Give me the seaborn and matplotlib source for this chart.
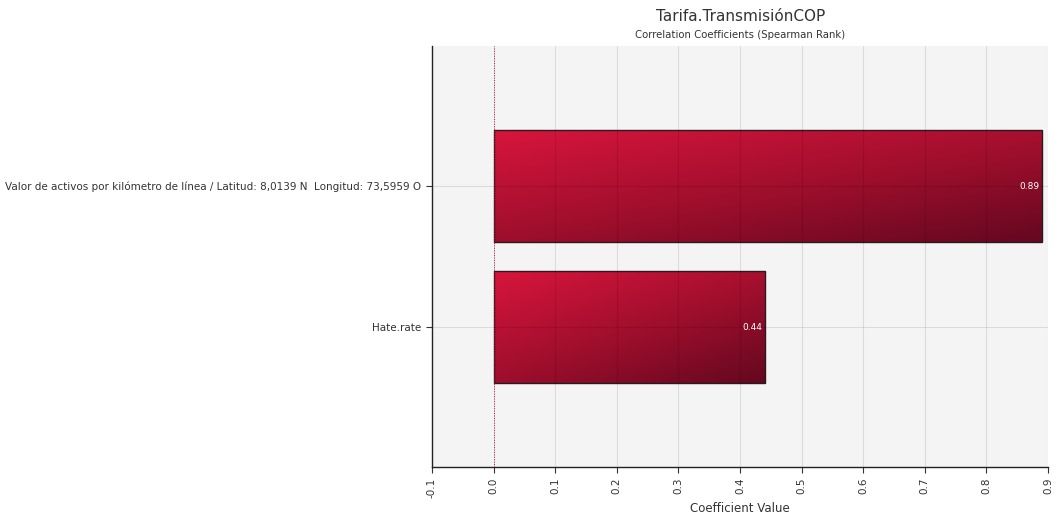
import numpy as np
import pandas as pd
import seaborn as sns
import matplotlib.pyplot as plt
from matplotlib.colors import LinearSegmentedColormap

# data
inputs = ['Valor de activos por kilómetro de línea / Latitud: 8,0139 N  Longitud: 73,5959 O',
          'Hate.rate']
coefs = [0.89, 0.44]
xticks = [-0.1, 0.0, 0.1, 0.2, 0.3, 0.4, 0.5, 0.6, 0.7, 0.8, 0.9]

df = pd.DataFrame({'Input': inputs, 'Coefficient': coefs})

sns.set_theme(style='white')
plt.rcParams['font.family'] = ['DejaVu Sans']

fig = plt.figure(figsize=(10.58, 5.21), dpi=100)
ax = fig.add_axes([0.4083, 0.1036, 0.5822, 0.8081])
ax.set_facecolor('#f4f4f4')

sns.barplot(data=df, x='Coefficient', y='Input', orient='h', width=0.8,
            color='#a01030', edgecolor='#2a1a1e', linewidth=1.0, ax=ax)

# gradient fill: crimson at top-left to dark wine at bottom-right
cmap = LinearSegmentedColormap.from_list('wine', ['#d8153c', '#a30f2e', '#650820'])
gx, gy = np.meshgrid(np.linspace(0, 1, 200), np.linspace(0, 1, 100))
grad = 0.45 * gx + 0.55 * gy
for p in ax.patches:
    x0, y0 = p.get_x(), p.get_y()
    w, h = p.get_width(), p.get_height()
    im = ax.imshow(grad, cmap=cmap, aspect='auto', extent=[x0, x0 + w, y0 + h, y0],
                   origin='upper', zorder=1.2, interpolation='bilinear')
    im.set_clip_path(p)
    p.set_facecolor('none')
    p.set_zorder(1.5)
    ax.text(x0 + w - 0.004, y0 + h / 2, f'{w:.2f}', ha='right', va='center',
            fontsize=6.5, color='white', zorder=3)

ax.set_xlim(-0.1, 0.9)
ax.set_ylim(len(inputs) - 1 + 0.993, -0.993)
ax.set_xticks(xticks)
ax.set_xticklabels([f'{t:.1f}' for t in xticks], rotation=90, fontsize=7.5, color='#333333')
ax.tick_params(axis='y', labelsize=7.5, labelcolor='#333333')
ax.tick_params(axis='both', length=4, width=0.8, color='#333333', direction='out',
               bottom=True, left=True)

# translucent grid drawn over the bars, as in the original
ax.grid(True, color='black', alpha=0.1, linewidth=0.8)
ax.set_axisbelow(False)
for gl in ax.get_xgridlines() + ax.get_ygridlines():
    gl.set_zorder(2)
ax.axvline(0, color='#c01030', linestyle=(0, (1, 1.5)), linewidth=0.7, zorder=2.6)

for s in ['top', 'right']:
    ax.spines[s].set_visible(False)
for s in ['left', 'bottom']:
    ax.spines[s].set_color('#222222')
    ax.spines[s].set_linewidth(1.0)
    ax.spines[s].set_zorder(3)

ax.set_ylabel('')
ax.set_xlabel('Coefficient Value', fontsize=8.5, color='#333333', labelpad=3)
fig.text(0.7, 0.968, 'Tarifa.TransmisiónCOP', ha='center', va='center', fontsize=11,
         color='#333333')
fig.text(0.7, 0.933, 'Correlation Coefficients (Spearman Rank)', ha='center', va='center',
         fontsize=7.3, color='#333333')

fig.savefig('out.png', dpi=100)
